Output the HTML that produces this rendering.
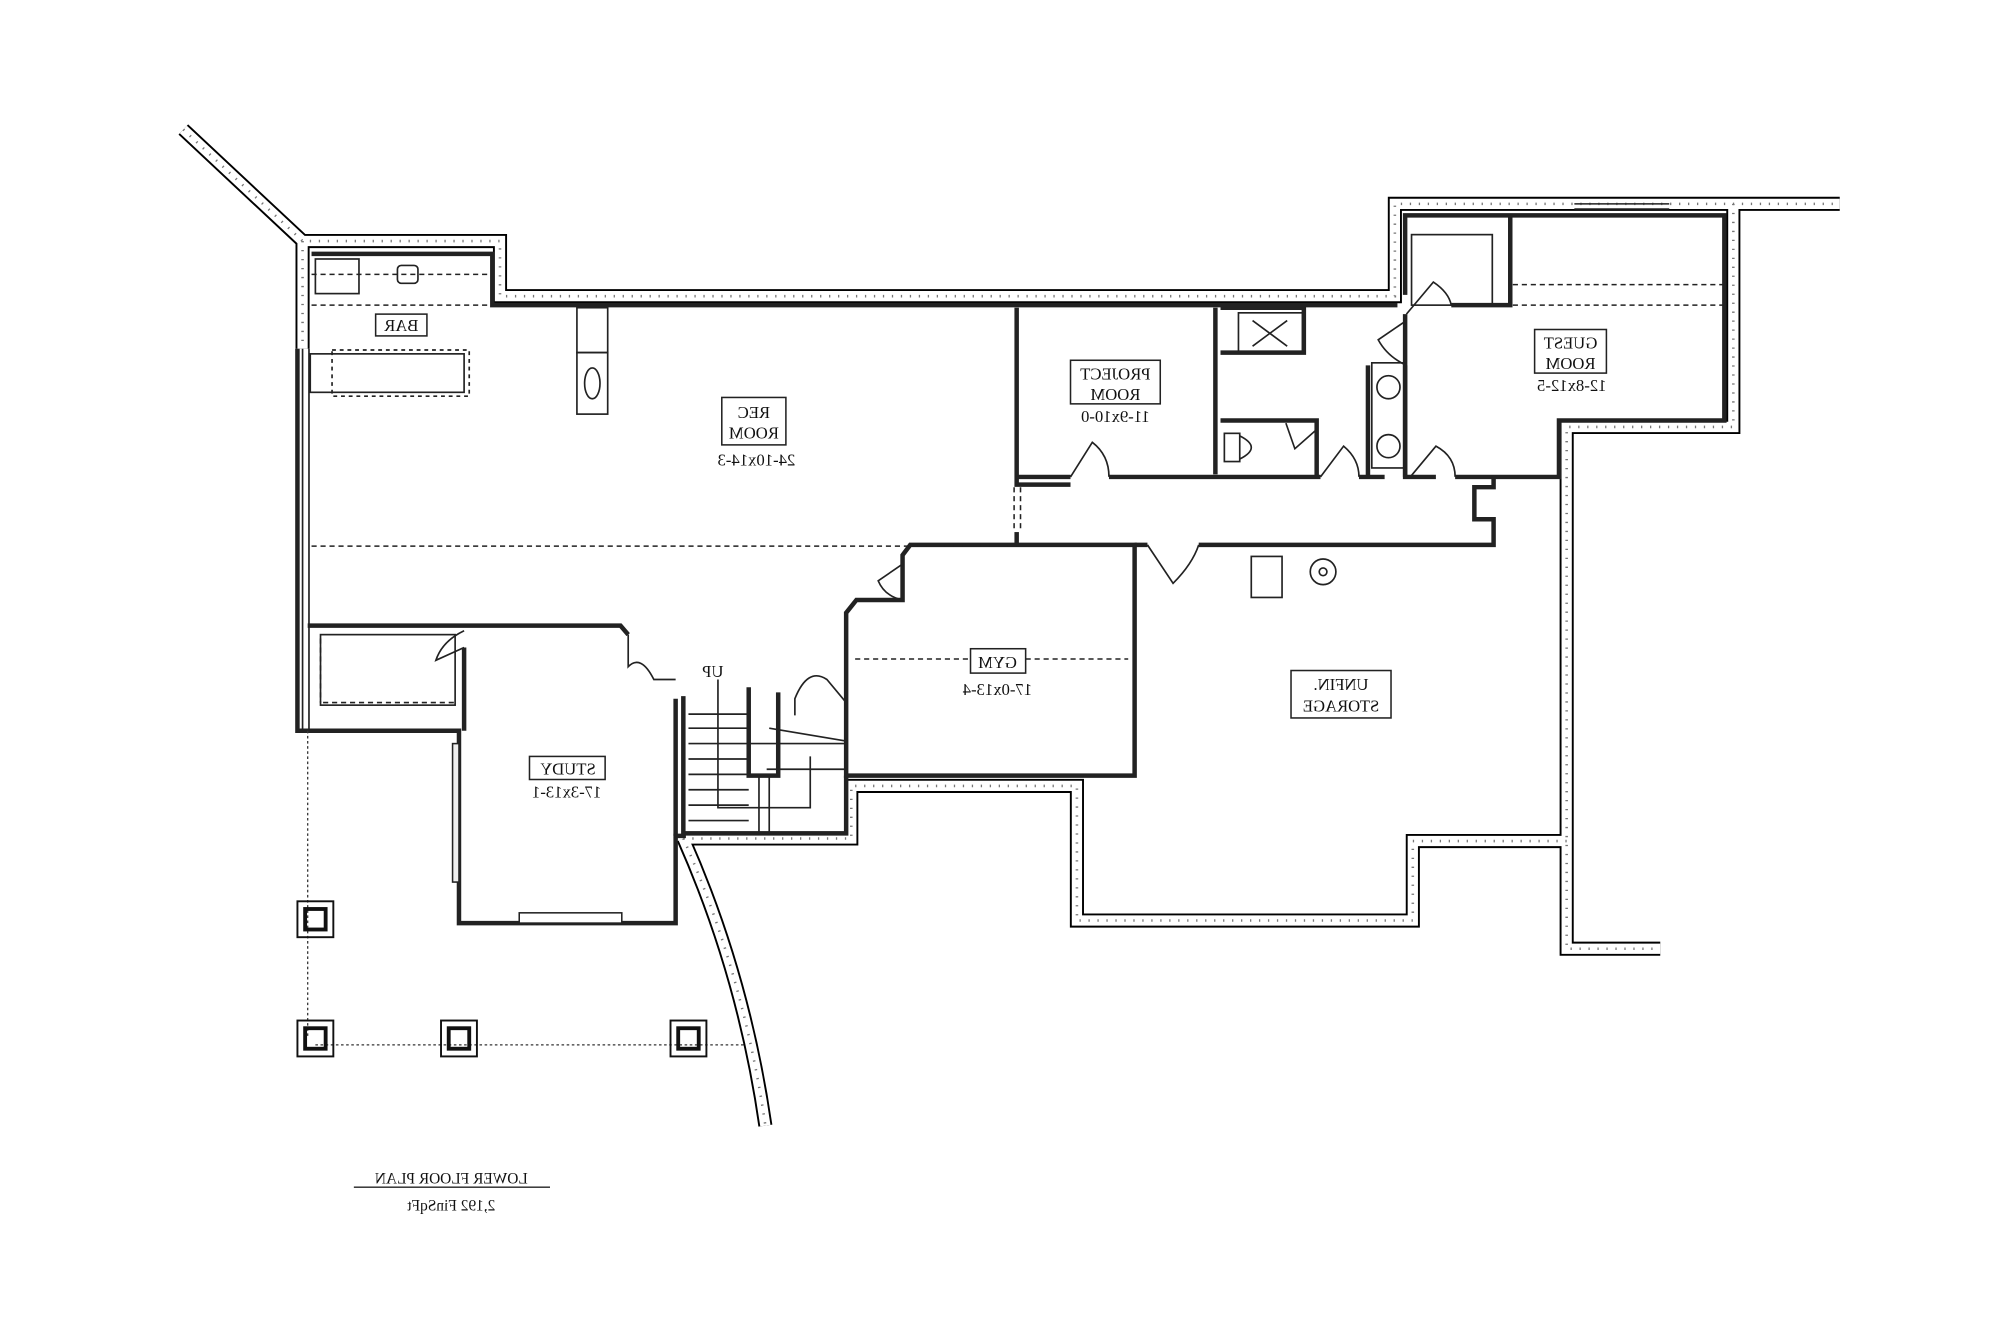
<!DOCTYPE html>
<html><head><meta charset="utf-8"><style>
html,body{margin:0;padding:0;background:#fff;}
svg{display:block;}
text{font-family:"Liberation Serif",serif;fill:#111;}
</style></head><body>
<svg width="2000" height="1334" viewBox="0 0 1560 1040.5" xmlns="http://www.w3.org/2000/svg">
<rect width="1560" height="1041" fill="#fff"/>
<g fill="none" stroke-linejoin="miter">
<g id="conc">
<path d="M143,101 L236,188 L390,188 L390,231 L1088,231 L1088,159 L1435,159"/>
<path d="M1352,159 L1352,333 L1222,333 L1222,740 L1295,740"/>
<path d="M236,188 L236,272"/>
<path d="M1222,656 L1102,656 L1102,718 L840,718 L840,613 L664,613 L664,654 L533,654"/>
<path d="M533,654 Q580,760 597,878"/>
</g>
<use href="#conc" stroke="#000" stroke-width="11"/>
<use href="#conc" stroke="#fff" stroke-width="8"/>
<use href="#conc" stroke="#777" stroke-width="2" stroke-dasharray="1 6"/>
<g stroke="#222" stroke-width="3.5">
<path d="M243,198 L384,198 L384,238 L1090,238"/>
<path d="M1096,230 L1096,168 L1345,168 L1345,328 L1216,328 L1216,372 L1135,372"/>
<path d="M1096,245 L1096,372 L1120,372"/>
<path d="M793,240 L793,378 L835,378 M865,372 L1030,372 M1060,372 L1080,372"/>
<path d="M793,372 L835,372"/>
<path d="M948,240 L948,370"/>
<path d="M952,240 L1017,240 L1017,275 L952,275"/>
<path d="M952,328 L1027,328 L1027,372"/>
<path d="M1067,372 L1067,285 M1096,285 L1096,372"/>
<path d="M1178,168 L1178,238 L1132,238"/>
<path d="M795,425 L710,425 L704,433 L704,468 L668,468 L660,478 L660,605 L885,605 L885,425 L795,425"/>
<path d="M793,415 L793,425"/>
<path d="M885,425 L895,425 M935,425 L1165,425 L1165,405 L1150,405 L1150,380 L1165,380 L1165,372"/>
<path d="M232,272 L232,570 L358,570 L358,720 L527,720 L527,652 L535,652"/>
<path d="M240,488 L484,488 L490,495"/>
<path d="M362,505 L362,570 M527,545 L527,652"/>
<path d="M533,543 L533,650 L660,650 L660,605"/>
<path d="M584,536 L584,605 L607,605 L607,540"/>
</g>
<g stroke="#222" stroke-width="1.3">
<rect x="246" y="202" width="34" height="27"/>
<rect x="310" y="207" width="16" height="14" rx="3"/>
<rect x="242" y="276" width="120" height="30"/>
<rect x="259" y="273" width="107" height="36" stroke-dasharray="3 3"/>
<path d="M236,272 V570 M241,272 V570"/>
<rect x="450" y="240" width="24" height="35"/>
<rect x="450" y="275" width="24" height="48"/>
<ellipse cx="462" cy="299" rx="6" ry="12"/>
<rect x="966" y="244" width="50" height="30"/>
<path d="M977,250 L1004,270 M1004,250 L977,270"/>
<rect x="955" y="338" width="12" height="22"/>
<path d="M967,340 Q985,349 967,358"/>
<rect x="1070" y="283" width="26" height="82"/>
<circle cx="1083" cy="302" r="9"/><circle cx="1083" cy="348" r="9"/>
<rect x="1101" y="183" width="63" height="55"/>
<rect x="976" y="434" width="24" height="32"/>
<circle cx="1032" cy="446" r="10"/><circle cx="1032" cy="446" r="3"/>
<rect x="250" y="495" width="105" height="55"/>
<path d="M537,580 H660 M537,568 H584 M537,557 H584 M537,592 H584 M537,604 H584 M537,616 H584 M537,628 H584 M537,640 H584"/>
<path d="M560,530 V630 H632 V590 M598,600 L660,600 M600,568 L660,578"/>
<path d="M600,605 V650 M592,605 V650"/>
<path d="M835,372 L852,345 Q865,355 865,372"/>
<path d="M1030,372 L1048,348 Q1060,358 1060,372"/>
<path d="M1100,372 L1120,348 Q1135,356 1135,372"/>
<path d="M1097,245 L1118,220 Q1130,228 1132,238"/>
<path d="M1097,250 L1075,265 Q1082,278 1097,285"/>
<path d="M1003,330 L1010,350 L1027,335"/>
<path d="M895,425 L915,455 Q930,440 935,425"/>
<path d="M704,440 L685,453 Q690,465 704,468"/>
<path d="M362,505 L340,515 Q345,500 362,492"/>
<path d="M490,495 L490,520 Q500,510 510,530 L527,530"/>
<path d="M660,548 L645,530 Q630,520 620,545 L620,558"/>
</g>
<g stroke="#222" stroke-width="1.2" stroke-dasharray="4 3">
<path d="M243,238 H384 M243,214 H384"/>
<path d="M243,426 H795"/>
<path d="M791,380 V415 M796,380 V415"/>
<path d="M667,514 H757 M800,514 H880"/>
<path d="M1180,222 H1345 M1180,238 H1345"/>
<path d="M252,548 H355 M250,498 V548"/>
</g>
<g stroke="#333" stroke-width="1" stroke-dasharray="2 2">
<path d="M240,570 V810 M246,815 H580"/>
</g>
<g stroke="#222" stroke-width="1.2">
<path d="M1228,159 H1302 M1228,163 H1302"/>
<rect x="353" y="580" width="5" height="108" fill="#eee"/>
<rect x="405" y="712" width="80" height="8" fill="#fff"/>
</g>
<g stroke="#111" stroke-width="1.5">
<rect x="232" y="703" width="28" height="28"/><rect x="238" y="709" width="16" height="16" stroke-width="3"/>
<rect x="232" y="796" width="28" height="28"/><rect x="238" y="802" width="16" height="16" stroke-width="3"/>
<rect x="344" y="796" width="28" height="28"/><rect x="350" y="802" width="16" height="16" stroke-width="3"/>
<rect x="523" y="796" width="28" height="28"/><rect x="529" y="802" width="16" height="16" stroke-width="3"/>
</g>
<g stroke="#222" stroke-width="1.2" fill="#fff">
<rect x="293" y="245" width="40" height="17"/>
<rect x="563" y="310" width="50" height="37"/>
<rect x="835" y="281" width="70" height="34"/>
<rect x="1197" y="257" width="56" height="34"/>
<rect x="757" y="506" width="43" height="19"/>
<rect x="1007" y="523" width="78" height="37"/>
<rect x="413" y="590" width="59" height="18"/>
</g>
</g>
<g font-size="13" text-anchor="middle">
<text transform="translate(313,258) scale(-1,1)">BAR</text>
<text transform="translate(588,326) scale(-1,1)">REC</text>
<text transform="translate(588,342) scale(-1,1)">ROOM</text>
<text transform="translate(590,363) scale(-1,1)">24-10x14-3</text>
<text transform="translate(870,296) scale(-1,1)">PROJECT</text>
<text transform="translate(870,312) scale(-1,1)">ROOM</text>
<text transform="translate(870,329) scale(-1,1)">11-9x10-0</text>
<text transform="translate(1225,272) scale(-1,1)">GUEST</text>
<text transform="translate(1225,288) scale(-1,1)">ROOM</text>
<text transform="translate(1226,305) scale(-1,1)">12-8x12-5</text>
<text transform="translate(778,521) scale(-1,1)">GYM</text>
<text transform="translate(778,542) scale(-1,1)">17-0x13-4</text>
<text transform="translate(1046,538) scale(-1,1)">UNFIN.</text>
<text transform="translate(1046,555) scale(-1,1)">STORAGE</text>
<text transform="translate(443,604) scale(-1,1)">STUDY</text>
<text transform="translate(442,622) scale(-1,1)">17-3x13-1</text>
<text transform="translate(556,528) scale(-1,1)">UP</text>
<text transform="translate(352,923) scale(-1,1)" font-size="12">LOWER FLOOR PLAN</text>
<text transform="translate(352,944) scale(-1,1)" font-size="12">2,192 FinSqFt</text>
</g>
<path d="M276,926 H429" stroke="#222" stroke-width="1"/>
</svg>
</body></html>
